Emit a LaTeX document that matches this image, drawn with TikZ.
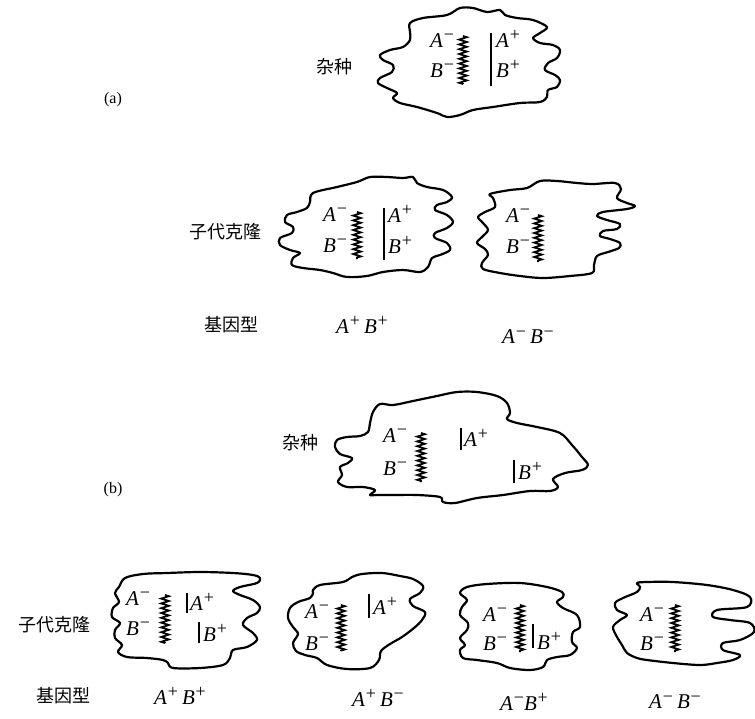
\documentclass[tikz,border=0pt]{standalone}
\usepackage{fontspec}
\setmainfont{Liberation Serif}
\newfontfamily\cjk{Noto Sans CJK SC}
\usetikzlibrary{decorations.pathmorphing}

% allele symbol: italic letter with a raised sign
\newcommand\allele[2]{\textit{#1}\kern0.8pt\raisebox{6.5pt}{\fontsize{18}{18}\selectfont #2}}

\begin{document}
\begin{tikzpicture}[x=1pt,y=-1pt,
  blob/.style={draw, line width=2.2pt, line join=round},
  spring/.style={draw, line width=1.8pt, decorate,
    decoration={zigzag, segment length=4.8pt, amplitude=3.8pt}},
  bar/.style={draw, line width=1.5pt},
  gene/.style={anchor=base west, inner sep=0pt, font=\fontsize{21}{23}\selectfont},
  cn/.style={font=\cjk\fontsize{18}{20}\selectfont, inner sep=0pt},
  geno/.style={font=\fontsize{21}{23}\selectfont, inner sep=0pt},
  tag/.style={font=\fontsize{16}{18}\selectfont, inner sep=0pt}]
\useasboundingbox (0,0) rectangle (755,718);

% ---------------- (a) hybrid cell ----------------
\draw[blob] plot[smooth cycle, tension=0.55] coordinates {
 (410,23) (423,18) (447,15) (460,8) (473,8) (487,12) (500,10) (505,15)
 (517,18) (533,20) (547,27) (540,33) (533,38) (540,43) (553,45) (560,50)
 (557,58) (548,63) (545,70) (555,75) (560,80) (557,87) (548,90) (547,97)
 (540,102) (520,103) (493,107) (473,110) (460,115) (447,117) (437,113)
 (417,107) (400,103) (393,98) (397,93) (387,88) (378,83) (380,78) (392,72)
 (393,65) (383,60) (380,55) (390,50) (403,47) (410,40) (410,32)};
\node[gene] (h1a) at (430,47) {\allele{A}{−}};
\node[gene] (h1b) at (430,77) {\allele{B}{−}};
\draw[spring] (463,36) -- (463,84);
\draw[bar] (491,33) -- (491,86);
\node[gene] (h1c) at (496,47) {\allele{A}{+}};
\node[gene] (h1d) at (496,77) {\allele{B}{+}};
\node[cn] (hyb1) at (334,67) {杂种};
\node[tag] (taga) at (113,100) {(a)};

% ---------------- (a) daughter clones ----------------
\draw[blob] plot[smooth cycle, tension=0.55] coordinates {
 (313,193) (337,187) (357,182) (370,177) (387,177) (403,178) (413,177)
 (417,183) (427,187) (443,190) (452,197) (447,202) (437,205) (435,210)
 (447,215) (453,222) (447,228) (435,233) (435,238) (447,243) (450,250)
 (440,255) (432,258) (428,267) (420,272) (403,270) (383,272) (367,276)
 (347,277) (333,273) (320,270) (303,268) (292,265) (293,258) (300,253)
 (290,250) (280,245) (280,238) (292,233) (293,227) (285,222) (287,215)
 (297,212) (307,208) (310,202)};
\node[gene] (c1a) at (323,221) {\allele{A}{−}};
\node[gene] (c1b) at (323,252) {\allele{B}{−}};
\draw[spring] (357,212) -- (357,259);
\draw[bar] (384,208) -- (384,260);
\node[gene] (c1c) at (388,222) {\allele{A}{+}};
\node[gene] (c1d) at (388,253) {\allele{B}{+}};

\draw[blob] plot[smooth cycle, tension=0.55] coordinates {
 (490,194) (510,190) (527,188) (540,181) (557,181) (577,183) (593,184)
 (615,183) (621,189) (617,198) (627,203) (635,206) (627,209) (603,212)
 (597,216) (607,220) (620,224) (617,229) (603,231) (600,236) (610,239)
 (620,243) (619,248) (608,252) (597,256) (594,265) (592,273) (570,276)
 (543,278) (520,276) (500,273) (483,269) (482,263) (488,255) (485,249)
 (477,243) (482,237) (488,230) (483,223) (478,217) (485,212) (495,207)
 (493,198)};
\node[gene] (c2a) at (506,222) {\allele{A}{−}};
\node[gene] (c2b) at (506,253) {\allele{B}{−}};
\draw[spring] (538,215) -- (538,262);

\node[cn] (cl1) at (225,232) {子代克隆};
\node[cn] (gt1) at (231,325) {基因型};
\node[geno] (g1) at (362,325) {\allele{A}{+}\hspace{4pt}\allele{B}{+}};
\node[geno] (g2) at (528,337) {\allele{A}{−}\hspace{4pt}\allele{B}{−}};

% ---------------- (b) hybrid cell ----------------
\draw[blob] plot[smooth cycle, tension=0.55] coordinates {
 (373,412) (380,404) (393,405) (413,401) (437,396) (457,392) (477,392)
 (497,396) (507,403) (510,413) (507,419) (517,423) (537,427) (560,433)
 (572,445) (582,457) (588,465) (582,470) (565,473) (553,479) (558,487)
 (550,491) (530,491) (503,495) (477,498) (455,503) (443,502) (440,497)
 (417,495) (393,495) (377,495) (370,495) (375,490) (363,487) (347,487)
 (338,482) (342,475) (340,467) (348,463) (352,458) (340,454) (335,447)
 (337,440) (347,437) (360,436) (368,432) (370,423)};
\node[gene] (h2a) at (383,442) {\allele{A}{−}};
\node[gene] (h2b) at (383,475) {\allele{B}{−}};
\draw[spring] (421,433) -- (421,482);
\draw[bar] (461,428) -- (461,450);
\node[gene] (h2c) at (464,446) {\allele{A}{+}};
\draw[bar] (514,460) -- (514,483);
\node[gene] (h2d) at (518,479) {\allele{B}{+}};
\node[cn] (hyb2) at (300,443) {杂种};
\node[tag] (tagb) at (113,490) {(b)};

% ---------------- (b) daughter clones ----------------
\draw[blob] plot[smooth cycle, tension=0.55] coordinates {
 (125,578) (143,574) (167,573) (200,572) (233,573) (253,575) (260,578)
 (257,583) (240,587) (233,591) (240,595) (253,600) (260,607) (257,613)
 (247,618) (243,625) (253,633) (257,640) (247,647) (233,650) (230,658)
 (223,665) (200,668) (173,668) (168,663) (163,660) (147,658) (127,657)
 (118,652) (122,645) (115,638) (115,630) (120,623) (112,617) (113,608)
 (119,602) (115,593) (119,587)};
\node[gene] (d1a) at (126,605) {\allele{A}{−}};
\node[gene] (d1b) at (126,635) {\allele{B}{−}};
\draw[spring] (165,595) -- (165,643);
\draw[bar] (187,593) -- (187,613);
\node[gene] (d1c) at (190,610) {\allele{A}{+}};
\draw[bar] (199,622) -- (199,643);
\node[gene] (d1d) at (203,641) {\allele{B}{+}};

\draw[blob] plot[smooth cycle, tension=0.55] coordinates {
 (313,590) (320,585) (343,582) (352,577) (362,574) (382,573) (400,576)
 (413,579) (423,586) (420,593) (410,599) (413,606) (425,612) (422,620)
 (414,628) (402,637) (390,644) (381,651) (379,660) (370,668) (347,669)
 (327,665) (317,658) (305,655) (296,651) (293,643) (298,634) (293,627)
 (288,618) (290,608) (298,602) (310,598) (313,593)};
\node[gene] (d2a) at (305,618) {\allele{A}{−}};
\node[gene] (d2b) at (305,650) {\allele{B}{−}};
\draw[spring] (341,605) -- (341,651);
\draw[bar] (369,594) -- (369,618);
\node[gene] (d2c) at (373,614) {\allele{A}{+}};

\draw[blob] plot[smooth cycle, tension=0.55] coordinates {
 (460,593) (467,587) (487,584) (520,583) (547,587) (562,592) (563,597)
 (557,602) (563,608) (577,615) (580,627) (573,632) (572,642) (577,648)
 (570,655) (557,657) (547,660) (543,667) (530,670) (510,668) (497,663)
 (477,660) (463,658) (460,650) (465,645) (460,638) (467,630) (468,623)
 (460,615) (462,607) (467,600)};
\node[gene] (d3a) at (483,621) {\allele{A}{−}};
\node[gene] (d3b) at (483,650) {\allele{B}{−}};
\draw[spring] (520,605) -- (520,652);
\draw[bar] (533,624) -- (533,648);
\node[gene] (d3d) at (537,649) {\allele{B}{+}};

\draw[blob] plot[smooth cycle, tension=0.55] coordinates {
 (637,583) (647,582) (673,582) (707,585) (733,590) (750,597) (747,607)
 (717,610) (713,617) (730,620) (750,623) (754,632) (740,640) (723,643)
 (723,650) (740,655) (733,660) (717,663) (700,665) (673,663) (647,660)
 (637,658) (627,653) (622,645) (617,637) (613,627) (620,620) (627,615)
 (617,610) (615,603) (623,598) (637,592) (640,587)};
\node[gene] (d4a) at (640,621) {\allele{A}{−}};
\node[gene] (d4b) at (640,650) {\allele{B}{−}};
\draw[spring] (675,605) -- (675,652);

\node[cn] (cl2) at (54,625) {子代克隆};
\node[cn] (gt2) at (63,696) {基因型};
\node[geno] (g3) at (180,696) {\allele{A}{+}\hspace{4pt}\allele{B}{+}};
\node[geno] (g4) at (378,698) {\allele{A}{+}\hspace{4pt}\allele{B}{−}};
\node[geno] (g5) at (524,702) {\allele{A}{−}\allele{B}{+}};
\node[geno] (g6) at (675,702) {\allele{A}{−}\hspace{4pt}\allele{B}{−}};
\end{tikzpicture}
\end{document}
